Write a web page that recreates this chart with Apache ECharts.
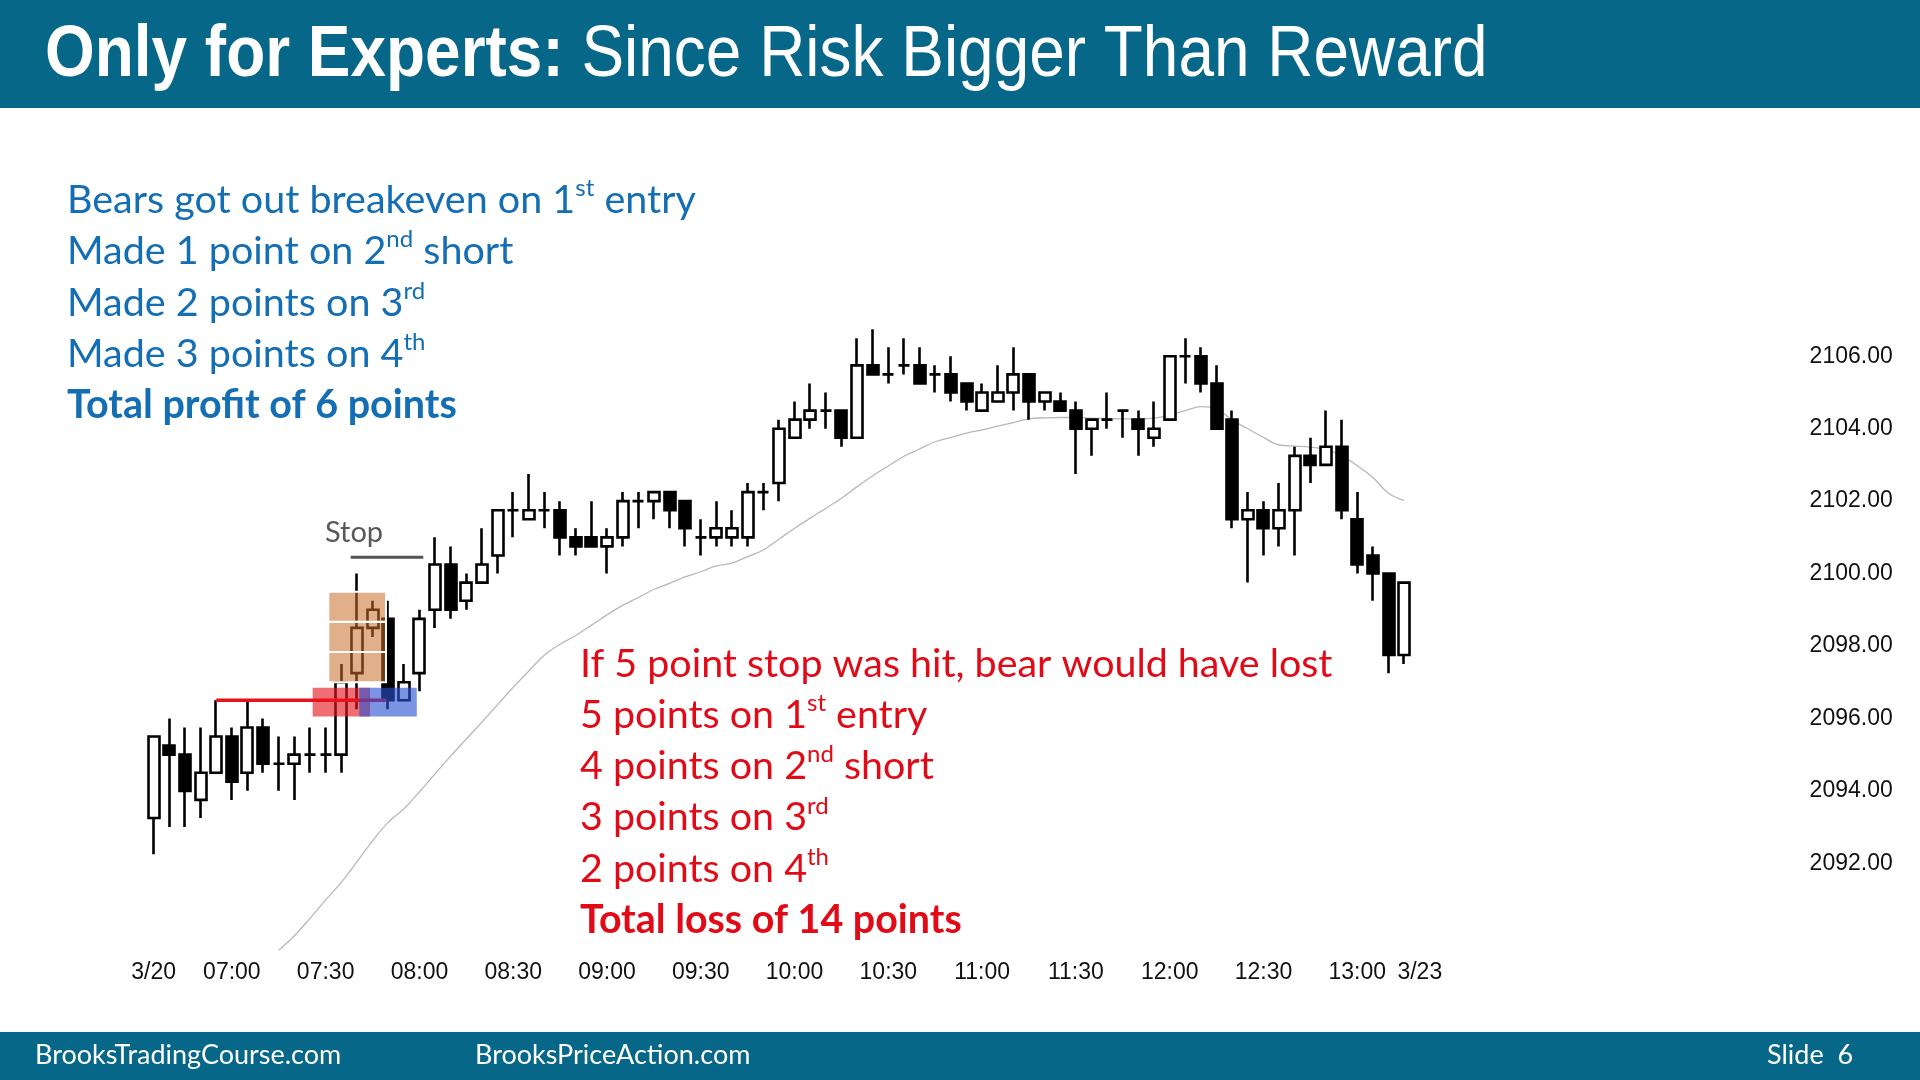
<!DOCTYPE html>
<html><head><meta charset="utf-8">
<script src="https://cdn.jsdelivr.net/npm/echarts@6/dist/echarts.min.js"></script>
<style>html,body{margin:0;padding:0;background:#fff}#c{width:1920px;height:1080px}</style>
</head><body><div id="c"></div>
<script>
// ---- categories (5-minute bars) ----
const categories = ['06:35','06:40','06:45','06:50','06:55','07:00','07:05','07:10','07:15','07:20','07:25','07:30',
 '07:35','07:40','07:45','07:50','07:55','08:00','08:05','08:10','08:15','08:20','08:25','08:30',
 '08:35','08:40','08:45','08:50','08:55','09:00','09:05','09:10','09:15','09:20','09:25','09:30',
 '09:35','09:40','09:45','09:50','09:55','10:00','10:05','10:10','10:15','10:20','10:25','10:30',
 '10:35','10:40','10:45','10:50','10:55','11:00','11:05','11:10','11:15','11:20','11:25','11:30',
 '11:35','11:40','11:45','11:50','11:55','12:00','12:05','12:10','12:15','12:20','12:25','12:30',
 '12:35','12:40','12:45','12:50','12:55','13:00','13:05','13:10','13:15','3/23 06:35'];

// ---- OHLC ----
const opens = [2093.25,2095.25,2095,2093.75,2094.5,2095.5,2094.5,2095.75,2094.75,2094.75,2095,2095,
 2095,2097.25,2098.5,2098.75,2096.5,2097.25,2099,2100.25,2099.25,2099.75,2100.5,2101.75,
 2101.5,2101.75,2101.75,2101,2101,2100.75,2101,2102,2102,2102.25,2102,2101,
 2101,2101,2101,2102.25,2102.5,2103.75,2104.25,2104.5,2104.5,2103.75,2105.75,2105.5,
 2105.75,2105.75,2105.5,2105.5,2105.25,2104.5,2104.75,2105,2105.5,2104.75,2104.75,2104.5,
 2104,2104.25,2104.5,2104.25,2103.75,2104.25,2106,2106,2105.25,2104.25,2101.5,2101.75,
 2101.25,2101.75,2103.25,2103,2103.5,2101.5,2100.5,2100,2097.75];
const closes = [2095.5,2095,2094,2094.5,2095.5,2094.25,2095.75,2094.75,2094.75,2095,2095,2095,
 2097,2098.5,2099,2096.5,2097,2098.75,2100.25,2099,2099.75,2100.25,2101.75,2101.75,
 2101.75,2101.75,2101,2100.75,2100.75,2101,2102,2102,2102.25,2101.75,2101.25,2101,
 2101.25,2101.25,2102.25,2102.25,2104,2104.25,2104.5,2104.5,2103.75,2105.75,2105.5,2105.5,
 2105.75,2105.25,2105.5,2105,2104.75,2105,2105,2105.5,2104.75,2105,2104.5,2104,
 2104.25,2104.25,2104.5,2104,2104,2106,2106,2105.25,2104,2101.5,2101.75,2101.25,
 2101.75,2103.25,2103,2103.5,2101.75,2100.25,2100,2097.75,2099.75];
const lows = [2092.25,2093,2093,2093.25,2094.5,2093.75,2094,2094.5,2094,2093.75,2094.5,2094.5,
 2094.5,2096.25,2098.25,2096.25,2096.5,2096.75,2098.5,2098.75,2099,2099.75,2100,2101,
 2101.5,2101.25,2100.5,2100.5,2100.75,2100,2100.75,2101.25,2101.5,2101.25,2100.75,2100.5,
 2100.75,2100.75,2100.75,2101.75,2102,2103.75,2104,2104,2103.5,2103.75,2105.5,2105.25,
 2105.5,2105.25,2105,2104.75,2104.5,2104.5,2104.75,2104.5,2104.25,2104.5,2104.5,2102.75,
 2103.25,2104,2103.75,2103.25,2103.5,2104.25,2105.25,2105,2104,2101.25,2099.75,2100.5,
 2100.75,2100.5,2102.5,2103,2101.5,2100,2099.25,2097.25,2097.5];
const highs = [2095.5,2096,2095.75,2095.75,2096.5,2095.75,2096.5,2096,2095.5,2095.5,2095.75,2095.75,
 2097.5,2100,2099.25,2099.25,2097.5,2099,2101,2100.75,2100,2101.25,2101.75,2102.25,
 2102.75,2102.25,2102,2101.25,2102,2101.25,2102.25,2102.25,2102.25,2102.25,2102,2101.5,
 2102,2101.75,2102.5,2102.5,2104.25,2104.75,2105.25,2105,2104.5,2106.5,2106.75,2106.25,
 2106.5,2106.25,2105.75,2106,2105.25,2105.25,2105.75,2106.25,2105.5,2105,2105,2104.75,
 2104.25,2105,2104.5,2104.5,2104.75,2106,2106.5,2106.25,2105.75,2104.5,2102.25,2102,
 2102.5,2103.5,2103.75,2104.5,2104.25,2102.25,2100.75,2100,2099.75];

// ---- moving average (grey line) ----
const movingAvg = [null,null,null,null,null,null,null,null,
 2089.6,2090.0,2090.48,2090.99,2091.47,2092.04,2092.62,2093.13,2093.5,2093.97,2094.47,2094.96,
 2095.43,2095.9,2096.38,2096.86,2097.31,2097.75,2098.05,2098.29,2098.57,2098.86,2099.12,2099.34,
 2099.56,2099.73,2099.91,2100.05,2100.21,2100.29,2100.47,2100.65,2100.95,2101.25,2101.53,2101.8,
 2102.08,2102.4,2102.7,2102.97,2103.24,2103.44,2103.64,2103.76,2103.88,2103.97,2104.07,2104.17,
 2104.27,2104.3,2104.31,2104.31,2104.29,2104.28,2104.27,2104.27,2104.29,2104.38,2104.5,2104.61,
 2104.55,2104.24,2104.0,2103.76,2103.55,2103.52,2103.49,2103.43,2103.25,2102.98,2102.65,2102.22,2102.02];

// ---- axis ticks ----
const yTicks = [2092,2094,2096,2098,2100,2102,2104,2106];
const xLabelCats = ['06:35','07:00','07:30','08:00','08:30','09:00','09:30','10:00','10:30','11:00','11:30','12:00','12:30','13:00','3/23 06:35'];
const xLabelTexts = ['3/20','07:00','07:30','08:00','08:30','09:00','09:30','10:00','10:30','11:00','11:30','12:00','12:30','13:00','3/23'];

// ---- annotation levels (bar index, price) ----
const entryHigh = 2096.5;          // red line level
const entryLineBars = [4, 14.9];
const entryZone = [2096.05, 2096.85];
const redZoneBars = [10.17, 13.84];
const blueZoneBars = [13.15, 16.83];
const orangeZone = [2097.0, 2099.5];
const orangeZoneBars = [11.17, 14.86];
const stopLevel = 2100.45;
const stopLineBars = [12.6, 17.25];
const stopLabelAt = [10.96, 2101.13];

const blueText = [
  'Bears got out breakeven on 1{s|st} entry',
  'Made 1 point on 2{s|nd} short',
  'Made 2 points on 3{s|rd}',
  'Made 3 points on 4{s|th}',
  '{b|Total profit of 6 points}'
];
const redText = [
  'If 5 point stop was hit, bear would have lost',
  '5 points on 1{s|st} entry',
  '4 points on 2{s|nd} short',
  '3 points on 3{s|rd}',
  '2 points on 4{s|th}',
  '{b|Total loss of 14 points}'
];

const candleData = opens.map((o, i) => [o, closes[i], lows[i], highs[i]]);

const chart = echarts.init(document.getElementById('c'), null, {renderer: 'canvas'});
const SANS = '"Liberation Sans", Arial, sans-serif';
const BODY = 'Lato, "Open Sans", sans-serif';
const TEAL = '#066789';

function textBlock(lines, x, y0, step, color, size) {
  return lines.map((t, k) => ({
    type: 'text', x: x, y: y0 + k * step, z: 20,
    style: {
      text: t, fill: color, fontFamily: BODY, fontSize: size, verticalAlign: 'middle', align: 'left',
      rich: {
        s: {fontSize: Math.round(size * 0.6), fontFamily: BODY, fill: color, verticalAlign: 'top', lineHeight: size * 1.2},
        b: {fontSize: size, fontFamily: BODY, fontWeight: 'bold', fill: color}
      }
    }
  }));
}

const option = {
  backgroundColor: '#ffffff',
  animation: false,
  grid: {left: 145.9, top: 120.9, width: 1281.7, height: 832.9, containLabel: false},
  xAxis: [{
    type: 'category', data: categories, boundaryGap: true,
    axisLine: {show: false}, axisTick: {show: false}, splitLine: {show: false},
    axisLabel: {
      interval: (idx, val) => xLabelCats.indexOf(val) >= 0,
      formatter: (val) => { const k = xLabelCats.indexOf(val); return k >= 0 ? xLabelTexts[k] : ''; },
      fontFamily: SANS, fontSize: 23, color: '#111', margin: 7, hideOverlap: false
    }
  }, {
    type: 'value', min: -0.5, max: categories.length - 0.5, show: false
  }],
  yAxis: [{
    type: 'value', position: 'right', min: 2089.5, max: 2112.5, scale: true,
    axisLine: {show: false}, axisTick: {show: false}, splitLine: {show: false},
    axisLabel: {
      customValues: yTicks, formatter: (v) => Number(v).toFixed(2),
      fontFamily: SANS, fontSize: 23, color: '#111', margin: 382, align: 'left'
    }
  }],
  series: [
    {
      type: 'line', data: movingAvg, xAxisIndex: 0, yAxisIndex: 0, smooth: 0.4, symbol: 'none', z: 1,
      lineStyle: {color: '#b8b8b8', width: 1.3}, silent: true
    },
    {
      type: 'candlestick', data: candleData, xAxisIndex: 0, yAxisIndex: 0, barWidth: 11.5, z: 2,
      itemStyle: {color: '#ffffff', color0: '#000000', borderColor: '#000000', borderColor0: '#000000',
        borderColorDoji: '#000000', borderWidth: 2.6}
    },
    {
      type: 'custom', xAxisIndex: 1, yAxisIndex: 0, z: 5, clip: false, silent: true,
      data: [[entryLineBars[0], entryHigh]],
      renderItem: function (params, api) {
        const c = (x, y) => api.coord([x, y]);
        const rect = (xs, ys, fill, stroke, lw) => {
          const a = c(xs[0], ys[1]), b = c(xs[1], ys[0]);
          return {type: 'rect', shape: {x: a[0], y: a[1], width: b[0] - a[0], height: b[1] - a[1]},
            style: {fill: fill, stroke: stroke || null, lineWidth: lw || 0}};
        };
        const children = [];
        const step = (orangeZone[1] - orangeZone[0]) / 3;
        for (let k = 0; k < 3; k++) {
          children.push(rect(orangeZoneBars, [orangeZone[0] + k * step, orangeZone[0] + (k + 1) * step],
            'rgba(200,110,40,0.55)', '#ffffff', 2));
        }
        children.push(rect(redZoneBars, entryZone, 'rgba(230,20,30,0.62)'));
        const l0 = c(entryLineBars[0], entryHigh), l1 = c(entryLineBars[1], entryHigh);
        children.push({type: 'line', shape: {x1: l0[0], y1: l0[1], x2: l1[0], y2: l1[1]},
          style: {stroke: '#e8121c', lineWidth: 3.5}});
        children.push(rect(blueZoneBars, entryZone, 'rgba(40,80,210,0.62)'));
        const s0 = c(stopLineBars[0], stopLevel), s1 = c(stopLineBars[1], stopLevel);
        children.push({type: 'line', shape: {x1: s0[0], y1: s0[1], x2: s1[0], y2: s1[1]},
          style: {stroke: '#555555', lineWidth: 3}});
        const sl = c(stopLabelAt[0], stopLabelAt[1]);
        children.push({type: 'text', x: sl[0], y: sl[1],
          style: {text: 'Stop', fill: '#595959', fontFamily: BODY, fontSize: 29, verticalAlign: 'middle', align: 'left'}});
        return {type: 'group', children: children};
      }
    }
  ],
  graphic: [
    {type: 'rect', shape: {x: 0, y: 0, width: 1920, height: 108}, style: {fill: TEAL}, z: 10},
    {type: 'text', x: 45, y: 56, scaleX: 0.888, z: 11,
      style: {text: '{b|Only for Experts:} Since Risk Bigger Than Reward', fill: '#ffffff',
        fontFamily: SANS, fontSize: 72, verticalAlign: 'middle', align: 'left',
        rich: {b: {fontFamily: SANS, fontSize: 72, fontWeight: 'bold', fill: '#ffffff'}}}},
    {type: 'rect', shape: {x: 0, y: 1032, width: 1920, height: 48}, style: {fill: TEAL}, z: 10},
    {type: 'text', x: 35, y: 1055, z: 11, style: {text: 'BrooksTradingCourse.com', fill: '#fff', fontFamily: BODY, fontSize: 27, verticalAlign: 'middle'}},
    {type: 'text', x: 475, y: 1055, z: 11, style: {text: 'BrooksPriceAction.com', fill: '#fff', fontFamily: BODY, fontSize: 27, verticalAlign: 'middle'}},
    {type: 'text', x: 1767, y: 1055, z: 11, style: {text: 'Slide  6', fill: '#fff', fontFamily: BODY, fontSize: 27, verticalAlign: 'middle'}}
  ].concat(textBlock(blueText, 67, 200, 51.4, '#146eb4', 39.5))
   .concat(textBlock(redText, 580, 664, 51.2, '#e10b17', 39.4))
};
chart.setOption(option);
</script></body></html>
